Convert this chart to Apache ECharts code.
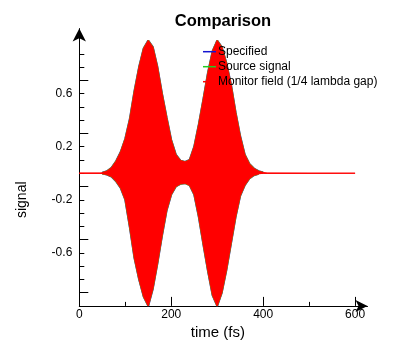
<!DOCTYPE html>
<html>
<head>
<meta charset="utf-8">
<script src="https://cdn.jsdelivr.net/npm/echarts@6/dist/echarts.min.js"></script>
<style>
html,body{margin:0;padding:0;background:#fff;}
#chart{width:396px;height:356px;}
</style>
</head>
<body>
<div id="chart"></div>
<script>
// ---- data ----
var chartTitle = 'Comparison';
var xName = 'time (fs)';
var yName = 'signal';
var seriesNames = ['Specified', 'Source signal', 'Monitor field (1/4 lambda gap)'];
var seriesColors = ['#1414d0', '#22cc22', '#ff0000'];

var times = [0, 45, 50, 60, 70, 80, 90, 100, 110, 120, 130, 140, 150, 160, 170, 180, 190, 200, 210, 220, 230, 240, 250, 260, 270, 280, 290, 300, 310, 320, 330, 340, 350, 360, 370, 380, 390, 400, 410, 600];
// upper / lower envelope of the (dense) oscillating field
var upperEnv = [0, 0, 0.004, 0.015, 0.04, 0.09, 0.16, 0.26, 0.41, 0.62, 0.80, 0.94, 1.0, 0.95, 0.80, 0.60, 0.42, 0.25, 0.14, 0.095, 0.085, 0.10, 0.20, 0.37, 0.56, 0.76, 0.92, 1.0, 0.95, 0.83, 0.67, 0.46, 0.28, 0.14, 0.07, 0.035, 0.015, 0.005, 0, 0];
var lowerEnv = [0, 0, -0.003, -0.01, -0.025, -0.06, -0.11, -0.20, -0.41, -0.64, -0.80, -0.93, -1.0, -0.87, -0.68, -0.47, -0.28, -0.16, -0.10, -0.08, -0.075, -0.09, -0.16, -0.33, -0.54, -0.74, -0.92, -1.0, -0.90, -0.73, -0.53, -0.33, -0.17, -0.09, -0.04, -0.015, -0.005, 0, 0, 0];

var xLabelValues = [0, 200, 400, 600];
var xMajorTicks = [200, 400, 600];
var xMinorTicks = [100, 300, 500];
var yLabelValues = [-0.6, -0.2, 0.2, 0.6];
var yMajorTicks = [-0.9, -0.5, -0.1, 0.3, 0.7];
var yMinorTicks = [-0.8, -0.7, -0.6, -0.4, -0.3, -0.2, 0, 0.1, 0.2, 0.4, 0.5, 0.6, 0.8, 0.9];

function pairs(xs, ys) {
  var out = [];
  for (var i = 0; i < xs.length; i++) out.push([xs[i], ys[i]]);
  return out;
}
// same envelope, but broken (null) where the field is flat zero
function pairsActive(xs, ys) {
  var out = [];
  for (var i = 0; i < xs.length; i++) out.push([xs[i], ys[i] === 0 ? null : ys[i]]);
  return out;
}

var FONT = '"Liberation Sans", Arial, sans-serif';
var chart = echarts.init(document.getElementById('chart'), null, {renderer: 'canvas'});

var baseX = {type: 'value', min: 0, max: 627, position: 'bottom', splitLine: {show: false}};
var baseY = {type: 'value', min: -1, max: 1.09, position: 'left', splitLine: {show: false}};

var legendData = seriesNames.map(function (n, i) {
  return {name: n, icon: 'rect',
    itemStyle: {color: seriesColors[i], borderColor: seriesColors[i], borderWidth: 0, opacity: 1}};
});

var option = {
  animation: false,
  backgroundColor: '#ffffff',
  textStyle: {fontFamily: FONT},
  title: {
    text: chartTitle, left: 218, textAlign: 'center', top: 8,
    textStyle: {fontFamily: FONT, fontSize: 16.5, fontWeight: 'bold', color: '#000'}
  },
  legend: {
    data: legendData,
    orient: 'vertical', left: 203, top: 44.7, padding: 0,
    itemWidth: 13, itemHeight: 1.5, itemGap: 1,
    itemStyle: {borderWidth: 0},
    lineStyle: {width: 0},
    textStyle: {fontFamily: FONT, fontSize: 12, color: '#000', lineHeight: 14, padding: [0, 0, 0, -3]}
  },
  grid: {left: 79.3, right: 28.5, top: 28.6, bottom: 50.1},
  xAxis: [
    Object.assign({}, baseX, {
      name: xName, nameLocation: 'middle', nameGap: 13,
      nameTextStyle: {fontFamily: FONT, fontSize: 15, color: '#000', padding: [0, 11, 0, 0]},
      axisLine: {show: true, onZero: false, symbol: ['none', 'arrow'], symbolSize: [9, 12],
        lineStyle: {color: '#000', width: 1}},
      axisTick: {show: true, inside: true, length: 9, customValues: xMajorTicks, lineStyle: {color: '#000'}},
      axisLabel: {show: true, customValues: xLabelValues, margin: 3, fontFamily: FONT, fontSize: 12, color: '#000'}
    }),
    Object.assign({}, baseX, {
      axisLine: {show: false, onZero: false},
      axisTick: {show: true, inside: true, length: 4, customValues: xMinorTicks, lineStyle: {color: '#000'}},
      axisLabel: {show: false}
    })
  ],
  yAxis: [
    Object.assign({}, baseY, {
      name: yName, nameLocation: 'middle', nameGap: 50, nameRotate: 90,
      nameTextStyle: {fontFamily: FONT, fontSize: 14, color: '#000', padding: [0, 65, 0, 0]},
      axisLine: {show: true, onZero: false, symbol: ['none', 'arrow'], symbolSize: [10, 13],
        lineStyle: {color: '#000', width: 1}},
      axisTick: {show: true, inside: true, length: 9, customValues: yMajorTicks, lineStyle: {color: '#000'}},
      axisLabel: {show: true, customValues: yLabelValues, margin: 7, fontFamily: FONT, fontSize: 12, color: '#000'}
    }),
    Object.assign({}, baseY, {
      axisLine: {show: false, onZero: false},
      axisTick: {show: true, inside: true, length: 5, customValues: yMinorTicks, lineStyle: {color: '#000'}},
      axisLabel: {show: false}
    })
  ],
  series: [
    {name: seriesNames[0], type: 'line', data: pairsActive(times, upperEnv), symbol: 'none', z: 1,
      itemStyle: {color: seriesColors[0]}, lineStyle: {color: '#3020b0', width: 2}},
    {name: seriesNames[0], type: 'line', data: pairsActive(times, lowerEnv), symbol: 'none', z: 1,
      itemStyle: {color: seriesColors[0]}, lineStyle: {color: '#3020b0', width: 2}},
    {name: seriesNames[1], type: 'line', data: pairsActive(times, upperEnv), symbol: 'none', z: 2,
      itemStyle: {color: seriesColors[1]}, lineStyle: {color: '#8aa000', width: 1.6}},
    {name: seriesNames[1], type: 'line', data: pairsActive(times, lowerEnv), symbol: 'none', z: 2,
      itemStyle: {color: seriesColors[1]}, lineStyle: {color: '#8aa000', width: 1.6}},
    {name: seriesNames[2], type: 'line', data: pairs(times, upperEnv), symbol: 'none', z: 3,
      itemStyle: {color: seriesColors[2]}, lineStyle: {color: '#ff0000', width: 1},
      areaStyle: {color: '#ff0000', opacity: 1, origin: -0.004}},
    {name: seriesNames[2], type: 'line', data: pairs(times, lowerEnv), symbol: 'none', z: 3,
      itemStyle: {color: seriesColors[2]}, lineStyle: {color: '#ff0000', width: 1},
      areaStyle: {color: '#ff0000', opacity: 1, origin: 0.004}}
  ]
};
chart.setOption(option);
</script>
</body>
</html>
